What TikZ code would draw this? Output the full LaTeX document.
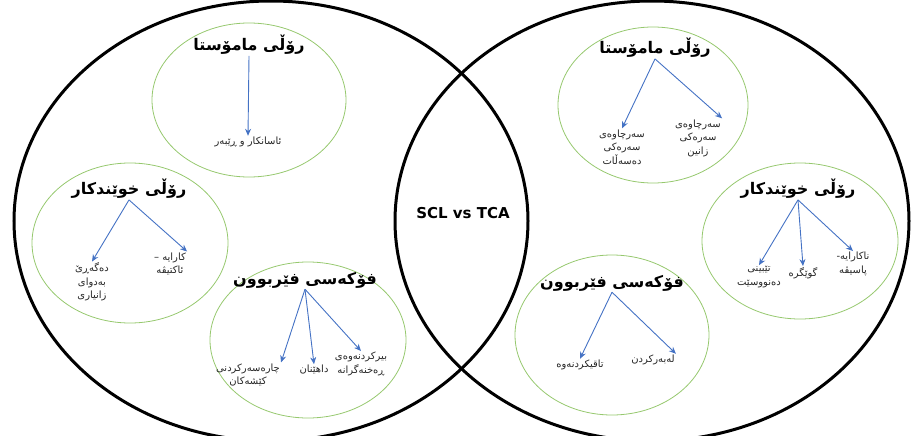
\documentclass[tikz,border=0pt]{standalone}
\usepackage{fontspec}
\usetikzlibrary{arrows.meta}
\setmainfont{DejaVu Sans}
\newfontfamily\kurdfont[Script=Arabic]{DejaVu Sans}
\TeXXeTstate=1
\newcommand{\kt}[1]{{\kurdfont\beginR #1\endR}}
\definecolor{ringgreen}{RGB}{150,200,110}
\definecolor{arrowblue}{RGB}{68,114,196}
\tikzset{
	rolttl/.style={font=\bfseries\fontsize{16}{18}\selectfont, inner sep=1pt},
	leaf/.style={font=\fontsize{10}{13.5}\selectfont, text=black!85, align=center, inner sep=1pt},
	fan/.style={-{Stealth[length=7pt,width=6pt]}, arrowblue, line width=0.9pt},
	ring/.style={ringgreen, line width=0.8pt},
}
\begin{document}
\begin{tikzpicture}[x=1pt,y=-1pt]
		\useasboundingbox (0,0) rectangle (911,436);
		\draw[line width=3pt] (271,221) ellipse (257 and 220);			% Conjunto SCL
		\draw[line width=3pt] (652,221) ellipse (257 and 220);			% Conjunto TCA
		\node[font=\bfseries\fontsize{15}{17}\selectfont] (mid) at (463,213) {SCL vs TCA};	% Rótulo central
		
		% Lado esquerdo
		\draw[ring] (249,100) ellipse (97 and 77);
		\draw[ring] (130,243) ellipse (98 and 80);
		\draw[ring] (308,340) ellipse (98 and 78);
		\node[rolttl] (lt) at (249,45) {\kt{رۆڵی مامۆستا}};
		\node[leaf] (lt1) at (248,142) {\kt{ئاسانکار و ڕێبەر}};
		\node[rolttl] (lm) at (129,189) {\kt{رۆڵی خوێندکار}};
		\node[leaf] (lm1) at (92,282) {\kt{دەگەڕێ}\\\kt{بەدوای}\\\kt{زانیاری}};
		\node[leaf] (lm2) at (170,264) {\kt{کارایە –}\\\kt{ئاکتیڤە}};
		\node[rolttl] (lb) at (305,280) {\kt{فۆکەسی فێربوون}};
		\node[leaf] (lb1) at (248,375) {\kt{چارەسەرکردنی}\\\kt{کێشەکان}};
		\node[leaf] (lb2) at (314,370) {\kt{داهێنان}};
		\node[leaf] (lb3) at (361,364) {\kt{بیرکردنەوەی}\\\kt{ڕەخنەگرانە}};
		
		% Lado direito
		\draw[ring] (653,105) ellipse (95 and 78);
		\draw[ring] (800,241) ellipse (98 and 78);
		\draw[ring] (612,335) ellipse (97 and 80);
		\node[rolttl] (rt) at (655,48) {\kt{رۆڵی مامۆستا}};
		\node[leaf] (rt1) at (622,147) {\kt{سەرچاوەی}\\\kt{سەرەکی}\\\kt{دەسەڵات}};
		\node[leaf] (rt2) at (698,138) {\kt{سەرچاوەی}\\\kt{سەرەکی}\\\kt{زانین}};
		\node[rolttl] (rm) at (798,189) {\kt{رۆڵی خوێندکار}};
		\node[leaf] (rm1) at (759,277) {\kt{تێبینی}\\\kt{دەنووسێت}};
		\node[leaf] (rm2) at (803,273) {\kt{گوێگرە}};
		\node[leaf] (rm3) at (853,264) {\kt{ناکارایە-}\\\kt{پاسیڤە}};
		\node[rolttl] (rb) at (612,283) {\kt{فۆکەسی فێربوون}};
		\node[leaf] (rb1) at (580,365) {\kt{تاقیکردنەوە}};
		\node[leaf] (rb2) at (653,360) {\kt{لەبەرکردن}};
		
		% Setas
		\draw[fan] (lt.south) -- (lt1.north);
		\draw[fan] (lm.south) -- (lm1.north);
		\draw[fan] (lm.south) -- (lm2.north east);
		\draw[fan] (lb.south) -- (lb1.north east);
		\draw[fan] (lb.south) -- (lb2.north);
		\draw[fan] (lb.south) -- (lb3.north);
		\draw[fan] (rt.south) -- (rt1.north);
		\draw[fan] (rt.south) -- (rt2.north east);
		\draw[fan] (rm.south) -- (rm1.north);
		\draw[fan] (rm.south) -- (rm2.north);
		\draw[fan] (rm.south) -- (rm3.north);
		\draw[fan] (rb.south) -- (rb1.north);
		\draw[fan] (rb.south) -- (rb2.north east);
	\end{tikzpicture}
\end{document}
